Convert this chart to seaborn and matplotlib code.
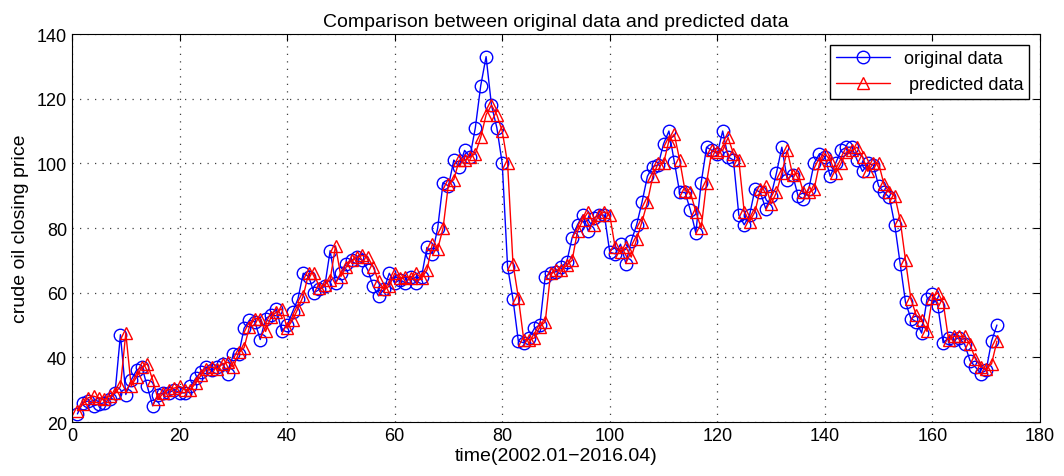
import numpy as np
import pandas as pd
import matplotlib
matplotlib.use("Agg")
import matplotlib.pyplot as plt
import seaborn as sns

# monthly crude oil closing price, 2002.01 - 2016.04
original = [
    22.5, 26, 26.5, 25, 25.5, 26, 27, 29, 47, 28.5,
    33, 36, 37, 31, 25, 28.5, 29, 29, 30, 29,
    29, 31, 33.5, 35.5, 37, 36, 37, 38, 35, 41,
    41, 49, 51.5, 51, 45.5, 52, 53, 55, 48, 50,
    54, 58, 66, 65, 60, 61, 62, 73, 63, 66,
    69, 70, 71, 70, 67, 62, 59, 61, 66, 63,
    64, 63, 65, 63, 65, 74, 72, 80, 94, 93,
    101, 99, 104, 102, 111, 124, 133, 118, 111, 100,
    68, 58, 45, 44.5, 46, 49, 50, 65, 66, 66.5,
    68, 69.5, 77, 81, 84, 79, 83, 84, 84, 72.5,
    72, 75, 69, 76, 81, 88, 96, 99, 99.5, 106,
    110, 100.5, 91, 91, 85.5, 78.5, 94, 105, 104, 103,
    110, 102, 101, 84, 81, 84, 92, 91, 86, 90,
    97, 105, 95, 96.5, 90, 89, 92, 100, 103, 102,
    96, 100, 104, 105, 105, 101, 97.5, 100, 99.5, 93,
    91, 89.5, 81, 69, 57, 52, 51, 47.5, 58, 59.5,
    56, 44.5, 46, 45.5, 46, 44, 39, 37, 35, 36,
    45, 50,
]

predicted = [
    23.5, 25.5, 27.5, 28, 27.5, 27, 28, 29, 31, 47.5,
    31, 34, 37, 38, 33, 27, 29, 30, 30.5, 31,
    30, 30, 32, 34.5, 36.5, 37, 36.5, 38, 38.5, 37,
    41.5, 43, 49.5, 52, 52, 48, 52.5, 54, 55, 49,
    51.5, 55, 59, 66, 66, 61.5, 62.5, 64, 74.5, 65,
    68, 70, 71, 71.5, 71, 68, 63.5, 61, 62, 66,
    64.5, 65, 64.5, 66, 64.5, 67, 75, 73.5, 80, 93.5,
    95, 101, 101, 102, 103, 108, 115, 118, 115, 110,
    100, 69, 58.5, 45.5, 45.5, 46, 49.5, 51, 66, 67,
    67, 68.5, 70, 79, 82.5, 85, 81, 84, 85, 84,
    74, 72.5, 74, 71, 76.5, 82, 88, 96, 100, 100,
    107, 109, 101, 91.5, 91, 85, 80, 94, 104, 103.5,
    104, 108, 103, 101, 85, 82, 85, 92, 93, 87.5,
    91, 97, 104, 96.5, 97, 91, 91, 92, 100, 103,
    101, 97, 100, 103.5, 104, 105, 102, 97.5, 100, 100,
    93.5, 91, 90, 82.5, 70, 58, 53, 51.5, 48, 58.5,
    60, 57, 45.5, 46.5, 46.5, 46.5, 44, 39.5, 37, 36.5,
    38, 45,
]

months = np.arange(1, len(original) + 1)

sns.set_style("white")
plt.rcParams['font.family'] = ['Liberation Sans', 'DejaVu Sans']
plt.rcParams['text.color'] = 'black'
plt.rcParams['axes.labelcolor'] = 'black'

fig = plt.figure(figsize=(10.64, 4.77), dpi=100)
ax = fig.add_axes([0.0677, 0.1132, 0.9097, 0.8134])

sns.lineplot(x=months, y=original, ax=ax, color='blue', linewidth=1,
             marker='o', markersize=9, markerfacecolor='none',
             markeredgecolor='blue', markeredgewidth=1, label='original data')
sns.lineplot(x=months, y=predicted, ax=ax, color='red', linewidth=1,
             marker='^', markersize=9, markerfacecolor='none',
             markeredgecolor='red', markeredgewidth=1, label=' predicted data')

ax.set_xlim(0, 180)
ax.set_ylim(20, 140)
ax.set_xticks(np.arange(0, 181, 20))
ax.set_yticks(np.arange(20, 141, 20))
ax.tick_params(direction='in', length=5, width=0.8, top=True, right=True,
               labelsize=13, colors='black')
ax.grid(True, linestyle=(0, (1, 5)), color='black', linewidth=0.9, alpha=0.75)
for s in ax.spines.values():
    s.set_color('black')
    s.set_linewidth(0.8)

ax.set_title("Comparison between original data and predicted data", fontsize=14,
             pad=6, color='black')
ax.set_xlabel("time(2002.01\u22122016.04)", fontsize=14, labelpad=2)
ax.set_ylabel("crude oil closing price", fontsize=14, labelpad=6)

leg = ax.legend(loc='upper right', fontsize=13, frameon=True, fancybox=False,
                edgecolor='black', framealpha=1, borderpad=0.3, handlelength=3,
                borderaxespad=0.6)
leg.get_frame().set_linewidth(1)
for t in leg.get_texts():
    t.set_color('black')

fig.savefig("out.png", dpi=100)
